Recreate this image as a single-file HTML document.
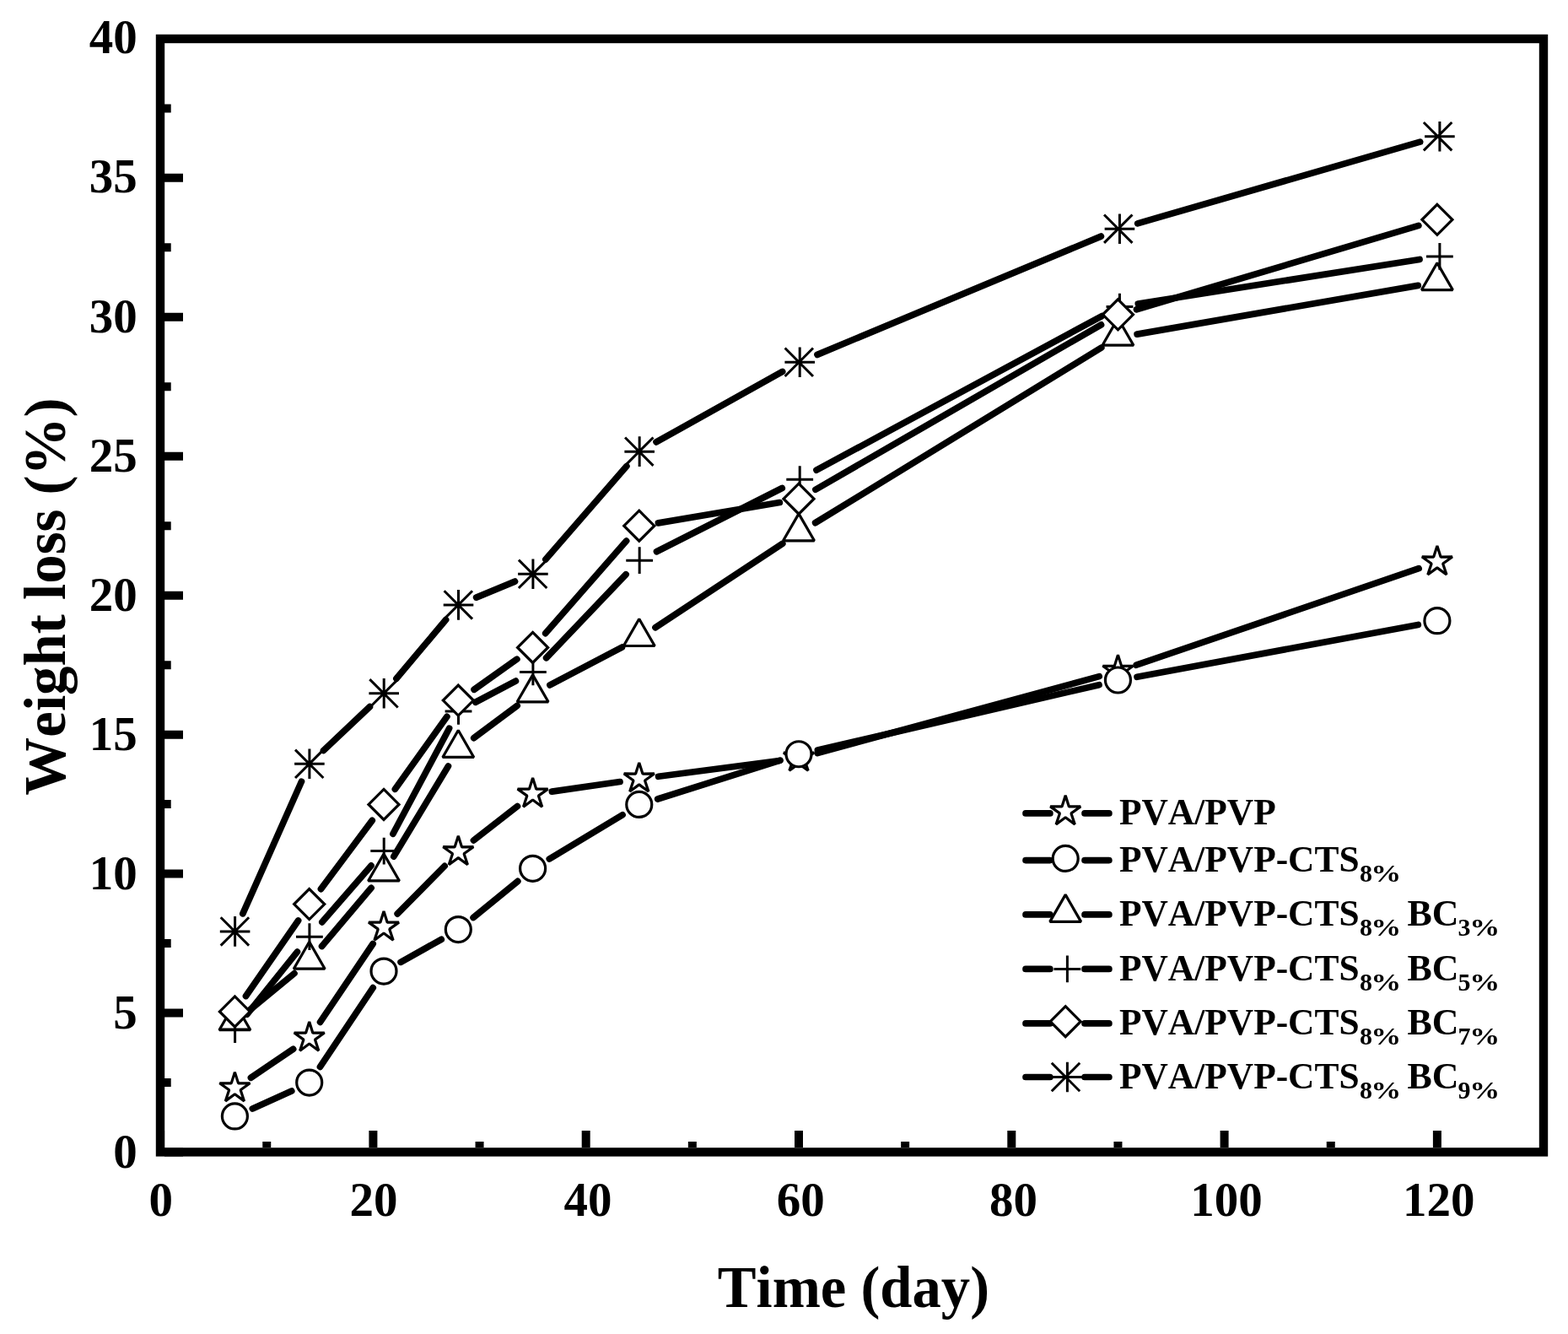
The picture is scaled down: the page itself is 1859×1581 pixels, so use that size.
<!DOCTYPE html>
<html><head><meta charset="utf-8"><title>Weight loss chart</title>
<style>
html,body{margin:0;padding:0;background:#fff;}
svg{display:block;}
text{font-family:"Liberation Serif","Times New Roman",serif;font-weight:bold;fill:#000;font-kerning:none;}
.tl{font-size:57px;}
.at{font-size:70px;}
.lg{font-size:45px;}
.sb{font-size:30px;}
.ax{fill:none;stroke:#000;stroke-width:10.4;}
.tk{fill:none;stroke:#000;stroke-width:10;}
.ln{fill:none;stroke:#000;stroke-width:7.7;stroke-linecap:round;stroke-linejoin:round;}
.m{fill:#fff;stroke:#000;stroke-width:3.2;stroke-linejoin:miter;}
.mb{stroke-linejoin:bevel;}
.p{fill:none;stroke:#000;stroke-width:3;}
</style></head>
<body>
<svg width="1859" height="1581" viewBox="0 0 1859 1581">
<rect width="1859" height="1581" fill="#fff"/>
<rect x="190" y="46" width="1640" height="1319.4" class="ax"/>
<path d="M190.1 1360V1340M442.4 1360V1340M694.7 1360V1340M947 1360V1340M1199.3 1360V1340M1451.6 1360V1340M1703.9 1360V1340M316.25 1360V1353M568.55 1360V1353M820.85 1360V1353M1073.15 1360V1353M1325.45 1360V1353M1577.75 1360V1353" class="tk"/>
<path d="M195 1365.5H217M195 1200.55H217M195 1035.6H217M195 870.65H217M195 705.7H217M195 540.75H217M195 375.8H217M195 210.85H217M195 45.9H217M195 1283.03H202.7M195 1118.08H202.7M195 953.12H202.7M195 788.17H202.7M195 623.22H202.7M195 458.27H202.7M195 293.33H202.7M195 128.38H202.7" class="tk"/>
<text x="190.8" y="1441" class="tl" text-anchor="middle">0</text>
<text x="442.9" y="1441" class="tl" text-anchor="middle">20</text>
<text x="696.9" y="1441" class="tl" text-anchor="middle">40</text>
<text x="949.3" y="1441" class="tl" text-anchor="middle">60</text>
<text x="1201.5" y="1441" class="tl" text-anchor="middle">80</text>
<text x="1453.9" y="1441" class="tl" text-anchor="middle">100</text>
<text x="1705.8" y="1441" class="tl" text-anchor="middle">120</text>
<text x="162.8" y="1383.5" class="tl" text-anchor="end">0</text>
<text x="162.8" y="1218.55" class="tl" text-anchor="end">5</text>
<text x="162.8" y="1053.6" class="tl" text-anchor="end">10</text>
<text x="162.8" y="888.65" class="tl" text-anchor="end">15</text>
<text x="162.8" y="723.7" class="tl" text-anchor="end">20</text>
<text x="162.8" y="558.75" class="tl" text-anchor="end">25</text>
<text x="162.8" y="393.8" class="tl" text-anchor="end">30</text>
<text x="162.8" y="227.85" class="tl" text-anchor="end">35</text>
<text x="162.8" y="62.9" class="tl" text-anchor="end">40</text>
<text transform="translate(1011.9,1549.2) scale(0.981,1)" class="at" text-anchor="middle">Time (day)</text>
<text transform="translate(77.4,707.1) rotate(-90) scale(0.985,1)" class="at" text-anchor="middle">Weight loss (%)</text>
<path d="M297.46 1277.24L347.66 1243.29M379.57 1211.34L442.16 1118.51M471.18 1083.08L527.16 1026.4M561.48 995.93L613.46 955.53M654.39 938.14L735.01 926.55M780.58 920.29L924.19 901.51M969.19 892.5L1303.26 801.64M1347.21 788.17L1682.14 673.72" class="ln"/>
<polygon points="278.4,1270.72 282.58,1283.88 296.38,1283.78 285.16,1291.82 289.51,1304.91 278.4,1296.72 267.3,1304.91 271.65,1291.82 260.43,1283.78 274.23,1283.88" class="m mb"/>
<polygon points="366.71,1211.01 370.88,1224.17 384.68,1224.07 373.46,1232.11 377.82,1245.2 366.71,1237.01 355.6,1245.2 359.96,1232.11 348.74,1224.07 362.54,1224.17" class="m mb"/>
<polygon points="455.01,1080.04 459.19,1093.2 472.99,1093.1 461.77,1101.13 466.12,1114.23 455.01,1106.04 443.91,1114.23 448.26,1101.13 437.04,1093.1 450.84,1093.2" class="m mb"/>
<polygon points="543.32,990.64 547.49,1003.79 561.29,1003.7 550.07,1011.73 554.43,1024.83 543.32,1016.64 532.21,1024.83 536.57,1011.73 525.35,1003.7 539.15,1003.79" class="m mb"/>
<polygon points="631.62,922.02 635.8,935.17 649.6,935.08 638.38,943.11 642.73,956.21 631.62,948.02 620.52,956.21 624.87,943.11 613.65,935.08 627.45,935.17" class="m mb"/>
<polygon points="757.77,903.87 761.95,917.03 775.75,916.93 764.53,924.97 768.88,938.06 757.77,929.87 746.67,938.06 751.02,924.97 739.8,916.93 753.6,917.03" class="m mb"/>
<polygon points="947,879.13 951.17,892.29 964.97,892.19 953.75,900.23 958.11,913.32 947,905.13 935.89,913.32 940.25,900.23 929.03,892.19 942.83,892.29" class="m mb"/>
<polygon points="1325.45,776.2 1329.62,789.36 1343.42,789.26 1332.2,797.3 1336.56,810.39 1325.45,802.2 1314.34,810.39 1318.7,797.3 1307.48,789.26 1321.28,789.36" class="m mb"/>
<polygon points="1703.9,646.88 1708.07,660.04 1721.87,659.94 1710.65,667.98 1715.01,681.07 1703.9,672.88 1692.79,681.07 1697.15,667.98 1685.93,659.94 1699.73,660.04" class="m mb"/>
<path d="M299.36 1313.97L345.75 1293M379.5 1264.41L442.22 1170.68M475.08 1140.32L523.26 1113.32M561.12 1087.52L613.82 1044.4M651.33 1017.98L738.07 965.81M779.71 947.03L925.07 901.16M969.41 889.05L1303.04 811.68M1348.06 802.29L1681.29 740.42" class="ln"/>
<circle cx="278.4" cy="1322.94" r="15" class="m"/>
<circle cx="366.71" cy="1283.03" r="15" class="m"/>
<circle cx="455.01" cy="1151.07" r="15" class="m"/>
<circle cx="543.32" cy="1101.58" r="15" class="m"/>
<circle cx="631.62" cy="1029.33" r="15" class="m"/>
<circle cx="757.77" cy="953.45" r="15" class="m"/>
<circle cx="947" cy="893.74" r="15" class="m"/>
<circle cx="1325.45" cy="805.99" r="15" class="m"/>
<circle cx="1703.9" cy="735.72" r="15" class="m"/>
<path d="M296.17 1197.01L348.94 1153.64M381.58 1121.49L440.15 1052.34M466.89 1015.09L531.45 908.01M561.78 874.59L613.17 836.39M651.98 811.96L737.42 767.06M776.98 743.7L927.8 644.31M966.62 619.65L1305.83 412.07M1348.11 396.13L1681.24 338.34" class="ln"/>
<polygon points="278.4,1188.82 296.85,1220.77 259.96,1220.77" class="m mb"/>
<polygon points="366.71,1116.24 385.16,1148.19 348.26,1148.19" class="m mb"/>
<polygon points="455.01,1011.99 473.46,1043.94 436.57,1043.94" class="m mb"/>
<polygon points="543.32,865.52 561.77,897.47 524.87,897.47" class="m mb"/>
<polygon points="631.62,799.87 650.07,831.81 613.18,831.81" class="m mb"/>
<polygon points="757.77,733.56 776.22,765.51 739.33,765.51" class="m mb"/>
<polygon points="947,608.85 965.45,640.8 928.55,640.8" class="m mb"/>
<polygon points="1325.45,377.26 1343.9,409.21 1307,409.21" class="m mb"/>
<polygon points="1703.9,311.61 1722.35,343.56 1685.45,343.56" class="m mb"/>
<path d="M292.91 1202.09L352.4 1128.08M381.9 1092.8L440.03 1025.91M465.94 988.25L532.6 863.23M563.77 832.22L611.42 807.14M647.65 779.78L742.1 680.77M778.5 653.75L927.23 578.51M967.99 557.2L1306.36 374.52M1349.32 360.02L1683.03 307.46" class="ln"/>
<path d="M262.7 1220.01H294.5M278.6 1204.11V1235.91" class="p"/>
<path d="M351.01 1110.16H382.81M366.91 1094.26V1126.06" class="p"/>
<path d="M439.31 1008.55H471.11M455.21 992.65V1024.45" class="p"/>
<path d="M527.62 842.94H559.42M543.52 827.04V858.84" class="p"/>
<path d="M616.02 796.42H647.82M631.92 780.52V812.32" class="p"/>
<path d="M742.27 664.13H774.07M758.17 648.23V680.03" class="p"/>
<path d="M932.3 568.13H964.1M948.2 552.23V584.03" class="p"/>
<path d="M1311.55 363.59H1343.35M1327.45 347.69V379.49" class="p"/>
<path d="M1691 303.88H1722.8M1706.9 287.98V319.78" class="p"/>
<path d="M291.51 1180.5L353.6 1090.96M380.48 1053.64L441.24 972.38M468.4 935.25L529.93 849.28M562.08 817.26L612.87 781.2M646.77 750.58L742.63 641.03M780.45 619.89L924.32 595.56M966.92 580.23L1305.53 384.83M1347.5 366.78L1681.85 267.39" class="ln"/>
<polygon points="278.4,1180.9 296.4,1198.9 278.4,1216.9 260.4,1198.9" class="m"/>
<polygon points="366.71,1053.56 384.71,1071.56 366.71,1089.56 348.71,1071.56" class="m"/>
<polygon points="455.01,935.45 473.01,953.45 455.01,971.45 437.01,953.45" class="m"/>
<polygon points="543.32,812.07 561.32,830.07 543.32,848.07 525.32,830.07" class="m"/>
<polygon points="631.62,749.39 649.62,767.39 631.62,785.39 613.62,767.39" class="m"/>
<polygon points="757.77,605.22 775.77,623.22 757.77,641.22 739.77,623.22" class="m"/>
<polygon points="947,573.22 965,591.22 947,609.22 929,591.22" class="m"/>
<polygon points="1325.45,354.83 1343.45,372.83 1325.45,390.83 1307.45,372.83" class="m"/>
<polygon points="1703.9,242.34 1721.9,260.34 1703.9,278.34 1685.9,260.34" class="m"/>
<path d="M287.85 1082.87L357.47 926.31M383.53 889.49L438.4 837.62M469.93 804.23L528.61 734.51M564.67 708.11L610.53 689.1M646.87 662.94L742.88 552.5M778.06 523.93L927.67 440.45M968.98 420.39L1305.37 280.08M1348.7 264.84L1683.65 168.08" class="ln"/>
<path d="M260.8 1103.89H296.4M278.6 1086.09V1121.69M261.7 1087.19L295.1 1120.59M261.7 1120.59L295.1 1087.19" class="p"/>
<path d="M349.11 905.29H384.71M366.91 887.49V923.09M350.01 888.59L383.41 921.99M350.01 921.99L383.41 888.59" class="p"/>
<path d="M437.41 821.82H473.01M455.21 804.02V839.62M438.31 805.12L471.71 838.52M438.31 838.52L471.71 805.12" class="p"/>
<path d="M525.72 716.92H561.32M543.52 699.12V734.72M526.62 700.22L560.02 733.62M526.62 733.62L560.02 700.22" class="p"/>
<path d="M614.12 680.3H649.72M631.92 662.5V698.1M614.92 663.6L648.33 697M614.92 697L648.33 663.6" class="p"/>
<path d="M740.38 535.14H775.97M758.17 517.34V552.94M741.07 518.44L774.48 551.84M741.07 551.84L774.48 518.44" class="p"/>
<path d="M930.4 429.24H966M948.2 411.44V447.04M930.6 412.54L964 445.94M930.6 445.94L964 412.54" class="p"/>
<path d="M1309.65 271.22H1345.25M1327.45 253.42V289.02M1309.05 254.52L1342.45 287.92M1309.05 287.92L1342.45 254.52" class="p"/>
<path d="M1689.1 161.69H1724.7M1706.9 143.89V179.49M1687.9 144.99L1721.3 178.39M1687.9 178.39L1721.3 144.99" class="p"/>
<path d="M1216 963.9H1244.9M1286 963.9H1314.9" class="ln"/>
<polygon points="1263.2,942.8 1267.37,955.96 1281.17,955.86 1269.95,963.89 1274.31,976.99 1263.2,968.8 1252.09,976.99 1256.45,963.89 1245.23,955.86 1259.03,955.96" class="m mb"/>
<text transform="translate(1327,977.4) scale(0.965,1)" class="lg">PVA/PVP</text>
<path d="M1216 1019.6H1244.9M1286 1019.6H1314.9" class="ln"/>
<circle cx="1263.2" cy="1017.4" r="15" class="m"/>
<text transform="translate(1327,1033.1) scale(0.965,1)" class="lg">PVA/PVP-CTS</text>
<text x="1612" y="1045.3" class="sb">8</text>
<text transform="translate(1625.3,1045.3) scale(1.2,1)" class="sb">%</text>
<path d="M1216 1083.9H1244.9M1286 1083.9H1314.9" class="ln"/>
<polygon points="1263.2,1060.4 1281.65,1092.35 1244.75,1092.35" class="m mb"/>
<text transform="translate(1327,1097.2) scale(0.965,1)" class="lg">PVA/PVP-CTS</text>
<text x="1612" y="1109.4" class="sb">8</text>
<text transform="translate(1625.3,1109.4) scale(1.2,1)" class="sb">%</text>
<text transform="translate(1668.5,1097.2) scale(0.976,1)" class="lg">BC</text>
<text x="1728.6" y="1109.4" class="sb">3</text>
<text transform="translate(1742.3,1109.4) scale(1.2,1)" class="sb">%</text>
<path d="M1216 1148.4H1244.9M1286 1148.4H1314.9" class="ln"/>
<path d="M1249.5 1148.4H1281.3M1265.4 1132.5V1164.3" class="p"/>
<text transform="translate(1327,1161.9) scale(0.965,1)" class="lg">PVA/PVP-CTS</text>
<text x="1612" y="1174.1" class="sb">8</text>
<text transform="translate(1625.3,1174.1) scale(1.2,1)" class="sb">%</text>
<text transform="translate(1668.5,1161.9) scale(0.976,1)" class="lg">BC</text>
<text x="1728.6" y="1174.1" class="sb">5</text>
<text transform="translate(1742.3,1174.1) scale(1.2,1)" class="sb">%</text>
<path d="M1216 1212.9H1244.9M1286 1212.9H1314.9" class="ln"/>
<polygon points="1263.2,1192.7 1281.2,1210.7 1263.2,1228.7 1245.2,1210.7" class="m"/>
<text transform="translate(1327,1225.9) scale(0.965,1)" class="lg">PVA/PVP-CTS</text>
<text x="1612" y="1238.1" class="sb">8</text>
<text transform="translate(1625.3,1238.1) scale(1.2,1)" class="sb">%</text>
<text transform="translate(1668.5,1225.9) scale(0.976,1)" class="lg">BC</text>
<text x="1728.6" y="1238.1" class="sb">7</text>
<text transform="translate(1742.3,1238.1) scale(1.2,1)" class="sb">%</text>
<path d="M1216 1276.5H1244.9M1286 1276.5H1314.9" class="ln"/>
<path d="M1247.6 1276.5H1283.2M1265.4 1258.7V1294.3M1246.8 1259.8L1280.2 1293.2M1246.8 1293.2L1280.2 1259.8" class="p"/>
<text transform="translate(1327,1290) scale(0.965,1)" class="lg">PVA/PVP-CTS</text>
<text x="1612" y="1302.2" class="sb">8</text>
<text transform="translate(1625.3,1302.2) scale(1.2,1)" class="sb">%</text>
<text transform="translate(1668.5,1290) scale(0.976,1)" class="lg">BC</text>
<text x="1728.6" y="1302.2" class="sb">9</text>
<text transform="translate(1742.3,1302.2) scale(1.2,1)" class="sb">%</text>
</svg>
</body></html>
